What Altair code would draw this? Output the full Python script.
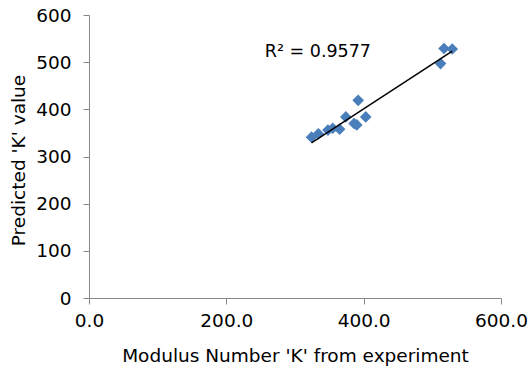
import altair as alt
import pandas as pd

k_exp = [324, 334, 348, 355, 365, 374, 386, 390, 392, 403, 512, 517, 529]
k_pred = [341, 348, 356, 360, 358, 384, 370, 367, 419, 384, 497, 529, 528]
r2_label = ["R² = 0.9577"]
x_ticks = [0, 200, 400, 600]
y_ticks = [0, 100, 200, 300, 400, 500, 600]

df = pd.DataFrame({"x": k_exp, "y": k_pred})
lab = pd.DataFrame({"x": [256], "y": [521], "t": r2_label})

FONT = "DejaVu Sans"
FS = 18.5
xs = alt.Scale(domain=[0, 600], nice=False)
ys = alt.Scale(domain=[0, 600], nice=False)

xax = alt.Axis(values=x_ticks, format=".1f", grid=False, title="Modulus Number 'K' from experiment",
               domainColor="#888888", tickColor="#888888", tickSize=6, labelFontSize=FS,
               titleFontSize=FS, labelColor="#000000", titleColor="#000000", labelFont=FONT,
               titleFont=FONT, titleFontWeight="normal", labelPadding=7,
               titleY=57, titleBaseline="middle", labelFlush=False)
yax = alt.Axis(values=y_ticks, grid=False, title="Predicted 'K' value",
               domainColor="#888888", tickColor="#888888", tickSize=6, labelFontSize=FS,
               titleFontSize=FS, labelColor="#000000", titleColor="#000000", labelFont=FONT,
               titleFont=FONT, titleFontWeight="normal", labelPadding=12,
               titleX=-71, titleY=145, titleBaseline="middle", titleAlign="center", titleAngle=270)

points = alt.Chart(df).mark_point(shape="diamond", filled=True, size=135, opacity=1,
                                   color="#4A7EBB").encode(
    x=alt.X("x:Q", scale=xs, axis=xax),
    y=alt.Y("y:Q", scale=ys, axis=yax),
)

trend = alt.Chart(df).transform_regression("x", "y").mark_line(color="#000000", strokeWidth=1.5).encode(
    x=alt.X("x:Q", scale=xs),
    y=alt.Y("y:Q", scale=ys),
)

text = alt.Chart(lab).mark_text(align="left", baseline="middle", fontSize=17.5, font=FONT,
                                 color="#000000").encode(
    x=alt.X("x:Q", scale=xs),
    y=alt.Y("y:Q", scale=ys),
    text="t:N",
)

chart = alt.layer(points, trend, text).properties(
    width=412, height=283,
    autosize=alt.AutoSizeParams(type="none"),
    padding={"left": 89, "top": 15, "right": 29, "bottom": 71},
    background="#ffffff",
).configure_view(stroke=None)

chart.save("out.html", embed_options={"renderer": "svg", "actions": False})
